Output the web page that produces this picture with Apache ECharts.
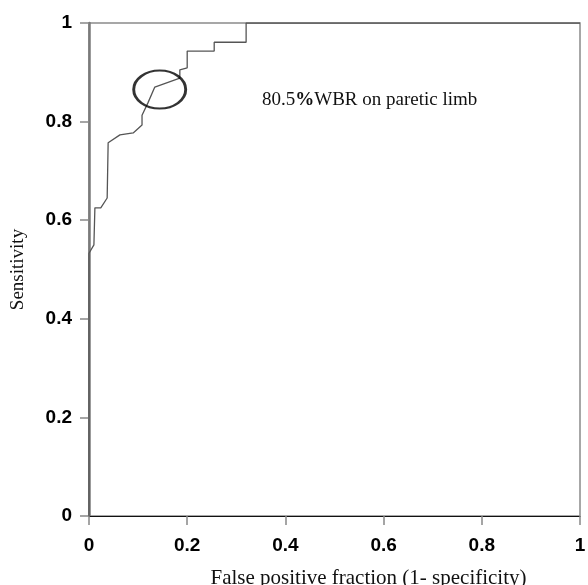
<!DOCTYPE html>
<html>
<head>
<meta charset="utf-8">
<script src="https://cdn.jsdelivr.net/npm/echarts@6/dist/echarts.min.js"></script>
<style>
  html, body { margin: 0; padding: 0; background: #fff; }
  #main { width: 588px; height: 585px; }
</style>
</head>
<body>
<div id="main"></div>
<script>
// ROC curve points (false positive fraction, sensitivity)
var fpr = [0, 0, 0.010, 0.012, 0.024, 0.037, 0.039, 0.063, 0.090, 0.108, 0.108, 0.120, 0.134, 0.185, 0.185, 0.200, 0.200, 0.255, 0.255, 0.320, 0.320, 1];
var sens = [0, 0.533, 0.550, 0.625, 0.625, 0.645, 0.757, 0.773, 0.777, 0.793, 0.813, 0.838, 0.870, 0.888, 0.905, 0.909, 0.943, 0.943, 0.961, 0.961, 1, 1];
// circled cut-off point
var cutoff = [0.144, 0.865];
var tickLabels = ['0', '0.2', '0.4', '0.6', '0.8', '1'];

var chart = echarts.init(document.getElementById('main'));

var tickFont = {
    color: '#000',
    fontFamily: 'Liberation Sans',
    fontWeight: 'bold',
    fontSize: 19
};

var option = {
    animation: false,
    grid: {
        left: 89, right: 8, top: 23, bottom: 69,
        outerBoundsMode: 'none',
        containLabel: false,
        show: true,
        borderColor: '#8a8a8a',
        borderWidth: 1.5
    },
    xAxis: {
        type: 'value',
        min: 0, max: 1, interval: 0.2,
        name: 'False positive fraction (1- specificity)',
        nameLocation: 'middle',
        nameGap: 52,
        nameTextStyle: {
            fontFamily: 'Liberation Serif', fontSize: 21, color: '#111',
            padding: [0, 0, 0, 68]
        },
        axisLine: { show: true, lineStyle: { color: '#111', width: 1.2 } },
        axisTick: { show: true, inside: false, length: 9, lineStyle: { color: '#888', width: 1.5 } },
        axisLabel: Object.assign({
            margin: 20,
            formatter: function (v) { return tickLabels[Math.round(v * 5)]; }
        }, tickFont),
        splitLine: { show: false }
    },
    yAxis: {
        type: 'value',
        min: 0, max: 1, interval: 0.2,
        name: 'Sensitivity',
        nameLocation: 'middle',
        nameGap: 61,
        nameTextStyle: { fontFamily: 'Liberation Serif', fontSize: 19, color: '#111' },
        axisLine: { show: true, lineStyle: { color: '#7a7a7a', width: 2.5 } },
        axisTick: { show: true, length: 9, lineStyle: { color: '#888', width: 1.5 } },
        axisLabel: Object.assign({
            margin: 17,
            formatter: function (v) { return tickLabels[Math.round(v * 5)]; }
        }, tickFont),
        splitLine: { show: false }
    },
    graphic: [{
        type: 'text',
        left: 262,
        top: 91,
        style: {
            text: '80.5{b|%}WBR on paretic limb',
            rich: {
                b: { fontFamily: 'Liberation Serif', fontSize: 19, fontWeight: 'bold', fill: '#111' }
            },
            fontFamily: 'Liberation Serif',
            fontSize: 19,
            fill: '#111'
        }
    }],
    series: [{
        type: 'line',
        data: fpr.map(function (x, i) { return [x, sens[i]]; }),
        showSymbol: false,
        symbol: 'none',
        lineStyle: { color: '#555', width: 1.3 },
        z: 3
    }, {
        type: 'scatter',
        data: [cutoff],
        symbol: 'circle',
        symbolSize: [52, 38],
        itemStyle: { color: 'rgba(0,0,0,0)', borderColor: '#000', borderWidth: 2.5 },
        z: 4
    }]
};

chart.setOption(option);

window.onresize = chart.resize;
</script>
</body>
</html>
